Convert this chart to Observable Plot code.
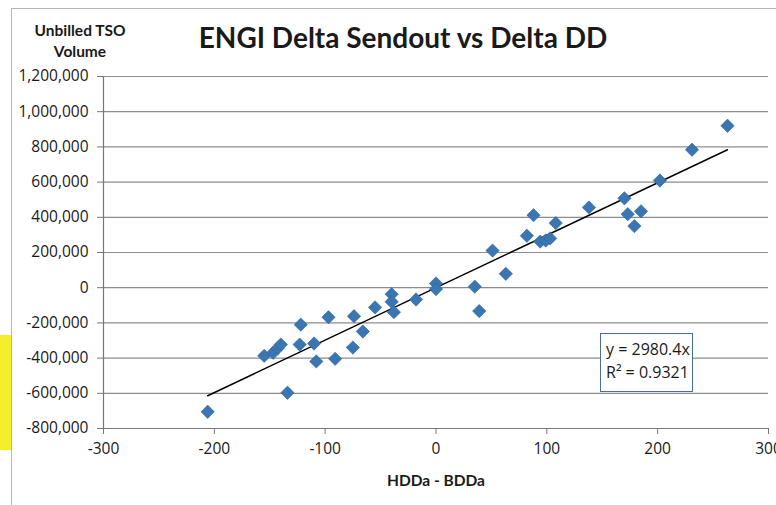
<!DOCTYPE html>
<html>
<head>
<meta charset="utf-8">
<script src="https://cdn.jsdelivr.net/npm/d3@7"></script>
<script src="https://cdn.jsdelivr.net/npm/@observablehq/plot@0.6"></script>
<style>
  html, body { margin: 0; padding: 0; background: #fff; }
  #wrap { position: relative; width: 776px; height: 505px; overflow: hidden; font-family: "Open Sans", Lato, sans-serif; }
  #frame { position: absolute; left: 11px; top: 8px; width: 800px; height: 520px; border-left: 1px solid #b5b5b5; border-top: 1px solid #b5b5b5; }
  #hl { position: absolute; left: 0; top: 335px; width: 11px; height: 115px; background: #f5ee2a; }
  #title { position: absolute; left: 0; width: 806px; top: 20px; text-align: center; font-family: Lato, sans-serif; font-size: 28px; font-weight: 700; color: #1a1a1a; }
  #ylab { position: absolute; left: 25px; width: 110px; top: 20px; text-align: center; font-family: Lato, sans-serif; font-size: 15.5px; font-weight: 700; line-height: 21px; color: #1a1a1a; }
  #eq { position: absolute; left: 600px; top: 333px; width: 86px; height: 53px; border: 1.5px solid #4a6f95; background: #fff; font-size: 16px; line-height: 23px; padding: 4px 0 0 5px; color: #1a1a1a; white-space: nowrap; }
  #plot { position: absolute; left: 0; top: 0; }
</style>
</head>
<body>
<div id="wrap">
  <div id="frame"></div>
  <div id="hl"></div>
  <div id="plot"></div>
  <div id="title">ENGI Delta Sendout vs Delta DD</div>
  <div id="ylab">Unbilled TSO<br>Volume</div>
  <div id="eq">y = 2980.4x<br>R² = 0.9321</div>
</div>
<script>
// Delta degree days (HDDa - BDDa)
const deltaDD = [-206, -155, -147, -143, -140, -134, -122, -123, -110, -108,
                 -97, -91, -74, -75, -66, -55, -40, -40, -38, -18,
                 0, 0, 35, 39, 51, 63, 82, 88, 94, 99,
                 103, 108, 138, 170, 173, 179, 185, 202, 231, 263];
// Unbilled TSO volume (delta sendout)
const volume = [-705000, -387000, -370000, -345000, -323000, -597000, -210000, -323000, -317000, -419000,
                -168000, -404000, -162000, -340000, -249000, -112000, -37000, -80000, -139000, -67000,
                24000, -8000, 6000, -133000, 211000, 79000, 295000, 412000, 262000, 268000,
                280000, 367000, 456000, 508000, 418000, 350000, 434000, 609000, 784000, 920000];
const slope = 2980.4;
const xTicks = [-300, -200, -100, 0, 100, 200, 300];
const yTicks = [-800000, -600000, -400000, -200000, 0, 200000, 400000, 600000, 800000, 1000000, 1200000];

const points = deltaDD.map((x, i) => ({x, y: volume[i]}));
const xExt = d3.extent(deltaDD);
const trend = xExt.map(x => ({x, y: slope * x}));
const fmt = d => (d < 0 ? "-" : "") + d3.format(",")(Math.abs(d));

const chart = Plot.plot({
  width: 776,
  height: 505,
  marginLeft: 103,
  marginRight: 8,
  marginTop: 76,
  marginBottom: 77,
  style: {fontFamily: "'Open Sans', Lato, sans-serif", fontSize: "15.5px", color: "#1a1a1a", background: "transparent", overflow: "visible"},
  x: {domain: [-300, 300], ticks: xTicks, tickFormat: fmt, label: null},
  y: {domain: [-800000, 1200000], ticks: yTicks, tickFormat: fmt, label: null},
  marks: [
    Plot.gridY(yTicks, {stroke: "#8c8c8c", strokeOpacity: 1, strokeWidth: 1.2}),
    Plot.ruleX([-300], {stroke: "#777", strokeWidth: 1.2}),
    Plot.ruleY([-800000], {stroke: "#777", strokeWidth: 1.2}),
    Plot.axisX({ticks: xTicks, tickFormat: fmt, tickSize: 6, tickPadding: 8, stroke: "#777", fontSize: 15.5, label: null}),
    Plot.axisY({ticks: yTicks, tickFormat: fmt, tickSize: 6, tickPadding: 9, stroke: "#777", fontSize: 15.5, label: null}),
    Plot.line(trend, {x: "x", y: "y", stroke: "#000", strokeWidth: 1.4}),
    Plot.dot(points, {x: "x", y: "y", symbol: "diamond2", r: 6, fill: "#3a76b2", stroke: "#2f6499", strokeWidth: 0.6}),
    Plot.text(["HDDa - BDDa"], {frameAnchor: "bottom", dy: 57, text: d => d, fontFamily: "Lato, sans-serif", fontWeight: "bold", fontSize: 15.5})
  ]
});
document.getElementById("plot").appendChild(chart);
</script>
</body>
</html>
